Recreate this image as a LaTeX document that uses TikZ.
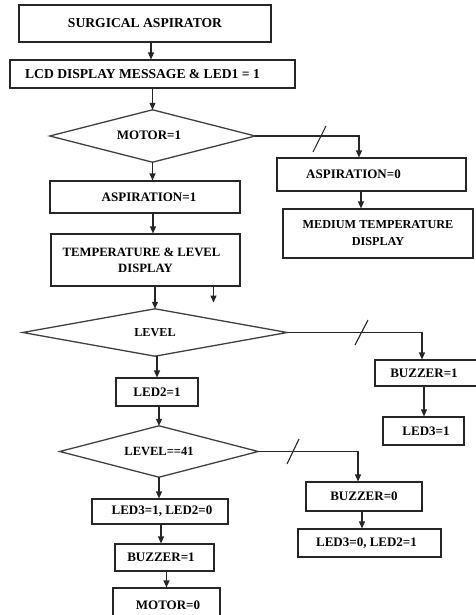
\documentclass[tikz,border=0pt]{standalone}
\usepackage{fontspec}
\setmainfont{Liberation Serif}
\usetikzlibrary{shapes.geometric,arrows.meta,calc}
\begin{document}
\begin{tikzpicture}[x=1pt,y=-1pt,
  box/.style={draw=black!85,line width=1.1pt,inner sep=0pt,font=\fontsize{13}{16}\selectfont\bfseries,align=center},
  dia/.style={draw=none,shape=rectangle,inner sep=0pt,font=\fontsize{13}{15}\selectfont\bfseries},
  diaedge/.style={draw=black!75,line width=1.3pt,line join=miter},
  arr/.style={draw=black!85,line width=1.1pt,-{Triangle[length=7pt,width=6pt]}},
  cut/.style={draw=black!85,line width=1.1pt}]
\useasboundingbox (0,0) rectangle (475,615);

% nodes
\node[box,minimum width=252pt,minimum height=37pt,font=\fontsize{13.6}{16}\selectfont\bfseries] (b1) at (145,23.5) {SURGICAL ASPIRATOR};
\node[box,minimum width=285pt,minimum height=28pt,font=\fontsize{13.6}{16}\selectfont\bfseries] (b2) at (152.5,74) {LCD DISPLAY MESSAGE \& LED1 = 1\hspace*{20pt}};
\node[dia,minimum width=205pt,minimum height=52pt] (d1) at (152.5,136) {\raisebox{2pt}{MOTOR=1}\hspace*{7pt}};
\node[box,minimum width=190pt,minimum height=32pt] (asp1) at (145,197) {\hspace*{8pt}ASPIRATION=1};
\node[box,minimum width=189pt,minimum height=33pt] (asp0) at (371.5,174.5) {ASPIRATION=0\hspace*{36pt}};
\node[box,minimum width=190pt,minimum height=49pt,font=\fontsize{12.2}{17}\selectfont\bfseries] (med) at (378,233.5) {MEDIUM TEMPERATURE\\DISPLAY};
\node[box,minimum width=189pt,minimum height=52pt,font=\fontsize{12.7}{16}\selectfont\bfseries] (temp) at (145.5,260) {TEMPERATURE \& LEVEL\hspace*{8pt}\\DISPLAY};
\node[dia,minimum width=264pt,minimum height=47pt,font=\fontsize{12.2}{15}\selectfont\bfseries] (d2) at (155,332.5) {LEVEL};
\node[box,minimum width=102pt,minimum height=26pt] (buz1r) at (426,373) {BUZZER=1\hspace*{4pt}};
\node[box,minimum width=81pt,minimum height=28pt] (led3r) at (423.5,431) {\hspace*{5pt}LED3=1};
\node[box,minimum width=82pt,minimum height=28pt] (led2) at (157,392) {LED2=1};
\node[dia,minimum width=198pt,minimum height=51pt,font=\fontsize{12.5}{15}\selectfont\bfseries] (d3) at (159,451.5) {LEVEL==41};
\node[box,minimum width=116pt,minimum height=29pt] (buz0) at (364,496.5) {BUZZER=0};
\node[box,minimum width=143pt,minimum height=28pt] (l30) at (369.5,543) {LED3=0, LED2=1\hspace*{6pt}};
\node[box,minimum width=136pt,minimum height=25pt] (l31) at (160,511.5) {\hspace*{4pt}LED3=1, LED2=0};
\node[box,minimum width=99pt,minimum height=27pt] (buzb) at (164.5,557.5) {BUZZER=1\hspace*{7pt}};
\node[box,minimum width=107pt,minimum height=34pt] (mot) at (166.5,605) {\hspace*{3pt}MOTOR=0};

% diamond outlines
\foreach \d in {d1,d2,d3}
  \draw[diaedge] (\d.north) -- (\d.east) -- (\d.south) -- (\d.west) -- cycle;

% connectors
\draw[arr] ([xshift=6pt]b1.south) -- ([xshift=6pt]b1.south |- b2.north);
\draw[arr] (b2.south -| d1) -- (d1.north);
\draw[arr] (d1.south) -- (d1.south |- asp1.north);
\draw[arr] (d1.east) -| ([xshift=-12.5pt]asp0.north);
\draw[arr] ([xshift=-10.5pt]asp0.south) -- ([xshift=-10.5pt]asp0.south |- med.north);
\draw[arr] ([xshift=8pt]asp1.south) -- ([xshift=8pt]asp1.south |- temp.north);
\draw[arr] (temp.south -| d2) -- (d2.north);
\coordinate (stray) at ([xshift=68pt]temp.south);
\draw[arr] (stray) -- ++(0,16);
\draw[arr] (d2.east) -| ([xshift=-4pt]buz1r.north);
\draw[arr] ([xshift=-2pt]buz1r.south) -- ([xshift=-2pt]buz1r.south |- led3r.north);
\draw[arr] (d2.south -| led2) -- (led2.north);
\draw[arr] (led2.south -| d3) -- (d3.north);
\draw[arr] (d3.east) -| ([xshift=-6pt]buz0.north);
\draw[arr] ([xshift=-2pt]buz0.south) -- ([xshift=-2pt]buz0.south |- l30.north);
\draw[arr] (d3.south) -- (d3.south |- l31.north);
\draw[arr] ([xshift=1pt]l31.south) -- ([xshift=1pt]l31.south |- buzb.north);
\draw[arr] (buzb.south -| mot) -- (mot.north);

% slash marks on the "no" branches
\draw[cut] (313,152) -- (326,126);
\draw[cut] (355,345) -- (368,320);
\draw[cut] (287,464) -- (299,439);
\end{tikzpicture}
\end{document}
